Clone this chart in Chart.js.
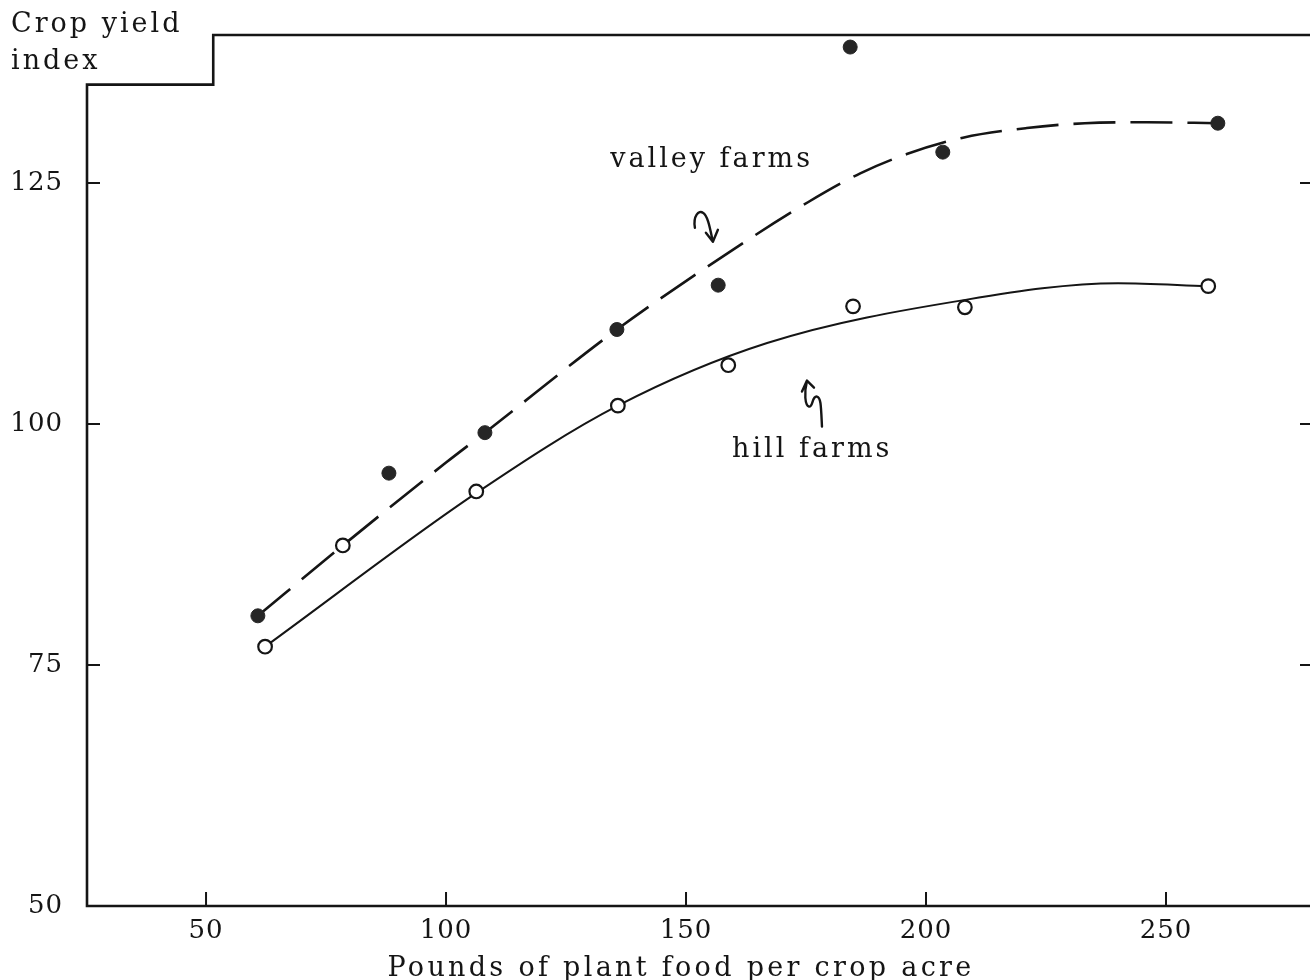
<!DOCTYPE html>
<html>
<head>
<meta charset="utf-8">
<title>Crop yield index</title>
<script src="https://cdn.jsdelivr.net/npm/chart.js@4.4.1/dist/chart.umd.min.js"></script>
<style>
  html, body { margin: 0; padding: 0; background: #fff; }
  canvas { display: block; }
</style>
</head>
<body>
<canvas id="chartCrop" width="1310" height="980"></canvas>
<script>
// --- Valores ---
const xTicks = [50, 100, 150, 200, 250];
const yTicks = [50, 75, 100, 125];

// valley farms (puntos rellenos)
const valleyX = [60.8, 88.1, 108.1, 135.6, 156.7, 184.2, 203.5, 260.8];
const valleyY = [80.1, 94.9, 99.1, 109.8, 114.4, 139.1, 128.2, 131.2];

// hill farms (círculos abiertos)
const hillX = [62.3, 78.5, 106.3, 135.8, 158.8, 184.8, 208.1, 258.8];
const hillY = [76.9, 87.4, 93.0, 101.9, 106.1, 112.2, 112.1, 114.3];

// curvas trazadas a mano en el original
const valleyCurveX = [60.8, 78.5, 100.0, 108.1, 135.6, 154.4, 175.4, 186.3, 196.0, 207.7, 221.0, 233.1, 246.0, 260.8];
const valleyCurveY = [80.1, 87.4, 96.0, 99.1, 109.8, 116.3, 123.0, 126.0, 128.0, 129.7, 130.7, 131.2, 131.3, 131.2];
const hillCurveX = [62.3, 106.5, 135.8, 166.9, 208.5, 240.0, 258.5];
const hillCurveY = [76.9, 92.9, 101.9, 108.4, 112.9, 114.6, 114.3];

// --- Estilo ---
const INK = "#151515";
const FONT_FAMILY = "'DejaVu Serif', serif";
const TICK_SIZE = 26;
const TEXT_FONT = `27px ${FONT_FAMILY}`;

const toXY = (xs, ys) => xs.map((x, i) => ({ x, y: ys[i] }));

// marco escalonado, ticks hacia dentro, textos y flechas
const paperPlugin = {
  id: "paper",
  beforeDraw(chart) {
    chart.ctx.letterSpacing = "1px"; // para las etiquetas de ticks
  },
  beforeDatasetsDraw(chart) {
    const { ctx, chartArea, scales } = chart;
    const { left, right, top, bottom } = chartArea;
    const sx = scales.x.getPixelForValue(51.5);
    const sy = scales.y.getPixelForValue(135.2);

    ctx.save();
    ctx.strokeStyle = INK;
    ctx.lineWidth = 2.6;
    ctx.lineCap = "square";
    ctx.beginPath();
    ctx.moveTo(right, bottom);
    ctx.lineTo(left, bottom);
    ctx.lineTo(left, sy);
    ctx.lineTo(sx, sy);
    ctx.lineTo(sx, top);
    ctx.lineTo(right, top);
    ctx.stroke();

    ctx.lineWidth = 2;
    ctx.lineCap = "butt";
    ctx.beginPath();
    xTicks.forEach((v) => {
      const px = scales.x.getPixelForValue(v);
      ctx.moveTo(px, bottom);
      ctx.lineTo(px, bottom - 14);
    });
    yTicks.slice(1).forEach((v) => {
      const py = scales.y.getPixelForValue(v);
      ctx.moveTo(left, py);
      ctx.lineTo(left + 13, py);
      ctx.moveTo(right - 10, py);
      ctx.lineTo(right, py);
    });
    ctx.stroke();
    ctx.restore();
  },
  afterDraw(chart) {
    const { ctx, scales } = chart;
    const px = (v) => scales.x.getPixelForValue(v);
    const py = (v) => scales.y.getPixelForValue(v);

    ctx.save();
    ctx.font = TEXT_FONT;
    ctx.fillStyle = INK;
    ctx.textBaseline = "alphabetic";
    ctx.letterSpacing = "3px";

    // títulos de ejes
    ctx.textAlign = "left";
    ctx.fillText("Crop yield", 11, 32);
    ctx.fillText("index", 11, 69);

    // etiquetas de las curvas
    ctx.fillText("valley farms", px(134.2), py(126.66));
    ctx.fillText("hill farms", px(159.6), py(96.58));

    ctx.letterSpacing = "3.3px";
    ctx.textAlign = "center";
    ctx.fillText("Pounds of plant food per crop acre", 681, 976);

    // flechas onduladas
    ctx.strokeStyle = INK;
    ctx.lineWidth = 2.4;
    ctx.lineCap = "round";
    ctx.lineJoin = "round";

    // valley: apunta hacia abajo
    let tx = px(155.6), ty = py(118.9);
    ctx.beginPath();
    ctx.moveTo(tx - 18, ty - 14);
    ctx.bezierCurveTo(tx - 20, ty - 26, tx - 14, ty - 32, tx - 10, ty - 29);
    ctx.bezierCurveTo(tx - 5, ty - 26, tx - 3, ty - 14, tx, ty);
    ctx.moveTo(tx - 7, ty - 9);
    ctx.lineTo(tx, ty);
    ctx.lineTo(tx + 5, ty - 12);
    ctx.stroke();

    // hill: apunta hacia arriba
    tx = px(175.2); ty = py(104.5);
    ctx.beginPath();
    ctx.moveTo(tx, ty);
    ctx.bezierCurveTo(tx - 3, ty + 12, tx - 2, ty + 25, tx + 2, ty + 26);
    ctx.bezierCurveTo(tx + 6, ty + 27, tx + 5, ty + 15, tx + 10, ty + 16);
    ctx.bezierCurveTo(tx + 14, ty + 17, tx + 14, ty + 25, tx + 15, ty + 46);
    ctx.moveTo(tx - 5, ty + 11);
    ctx.lineTo(tx, ty);
    ctx.lineTo(tx + 7, ty + 7);
    ctx.stroke();
    ctx.restore();
  },
};

const ctxCrop = document.getElementById("chartCrop");
new Chart(ctxCrop, {
  type: "scatter",
  data: {
    datasets: [
      {
        label: "valley farms",
        data: toXY(valleyX, valleyY),
        pointRadius: 7,
        pointBackgroundColor: "#262626",
        pointBorderColor: "#262626",
        pointBorderWidth: 1,
        showLine: false,
        clip: false,
        order: 0,
      },
      {
        label: "hill farms",
        data: toXY(hillX, hillY),
        pointRadius: 6.8,
        pointBackgroundColor: "#ffffff",
        pointBorderColor: INK,
        pointBorderWidth: 2.2,
        showLine: false,
        clip: false,
        order: 0,
      },
      {
        label: "valley curve",
        data: toXY(valleyCurveX, valleyCurveY),
        showLine: true,
        borderColor: INK,
        borderWidth: 2.6,
        borderDash: [42, 15],
        pointRadius: 0,
        cubicInterpolationMode: "monotone",
        clip: false,
        order: 1,
      },
      {
        label: "hill curve",
        data: toXY(hillCurveX, hillCurveY),
        showLine: true,
        borderColor: INK,
        borderWidth: 2,
        pointRadius: 0,
        cubicInterpolationMode: "monotone",
        clip: false,
        order: 1,
      },
    ],
  },
  options: {
    responsive: false,
    devicePixelRatio: 1,
    animation: false,
    layout: { autoPadding: false, padding: { top: 35, right: 0, left: 0, bottom: 0 } },
    plugins: { legend: { display: false }, tooltip: { enabled: false } },
    scales: {
      x: {
        type: "linear",
        min: 25.2,
        max: 280,
        grid: { display: false, drawTicks: false },
        border: { display: false },
        afterBuildTicks: (s) => { s.ticks = xTicks.map((v) => ({ value: v })); },
        afterFit: (s) => {
          s.height = 74;
          s.paddingLeft = 0;
          s.paddingRight = 0;
        },
        ticks: {
          font: { family: FONT_FAMILY, size: TICK_SIZE },
          color: INK,
          padding: 10,
          maxRotation: 0,
          autoSkip: false,
        },
      },
      y: {
        type: "linear",
        min: 50,
        max: 140.35,
        grid: { display: false, drawTicks: false },
        border: { display: false },
        afterBuildTicks: (s) => { s.ticks = yTicks.map((v) => ({ value: v })); },
        afterFit: (s) => {
          s.width = 87;
          s.paddingTop = 0;
          s.paddingBottom = 0;
        },
        ticks: {
          font: { family: FONT_FAMILY, size: TICK_SIZE },
          color: INK,
          padding: 24,
          autoSkip: false,
        },
      },
    },
  },
  plugins: [paperPlugin],
});
</script>
</body>
</html>
